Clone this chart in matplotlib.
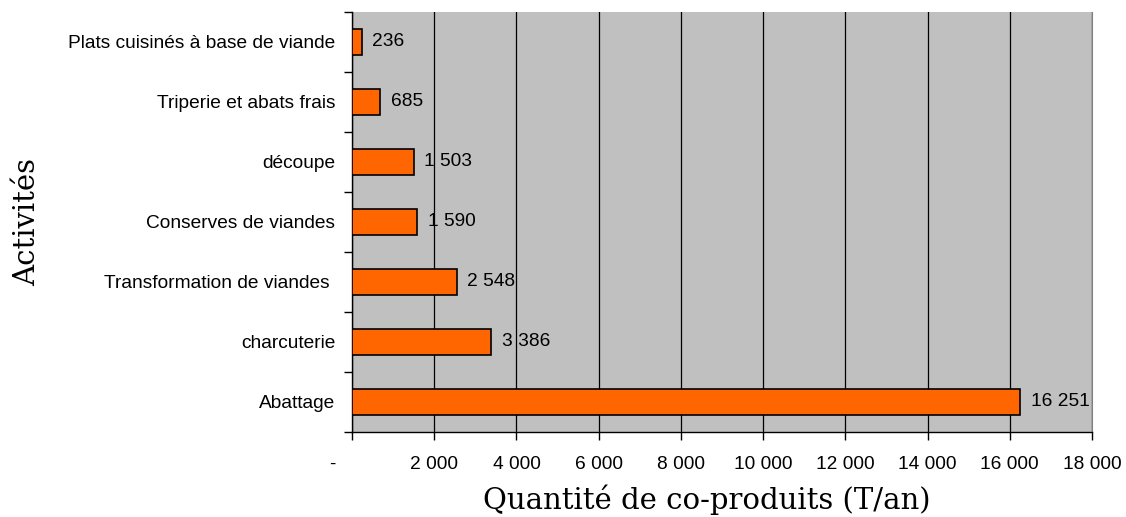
import matplotlib.pyplot as plt
from matplotlib.transforms import ScaledTranslation

# Quantités de co-produits par activité (T/an), du bas vers le haut
activites = ["Abattage", "charcuterie", "Transformation de viandes ",
             "Conserves de viandes", "découpe", "Triperie et abats frais",
             "Plats cuisinés à base de viande"]
quantites = [16251, 3386, 2548, 1590, 1503, 685, 236]
graduations = [0, 2000, 4000, 6000, 8000, 10000, 12000, 14000, 16000, 18000]


def fmt(v):
    return "-" if v == 0 else f"{v:,}".replace(",", " ")


plt.rcParams['font.family'] = ['Liberation Sans', 'DejaVu Sans']

fig = plt.figure(figsize=(11.26, 5.17), dpi=100)
ax = fig.add_axes([352 / 1126, 1 - 432 / 517, 740 / 1126, 420 / 517])
ax.set_facecolor("#c0c0c0")

y = list(range(len(activites)))
ax.barh(y, quantites, height=0.42, color="#ff6600", edgecolor="black",
        linewidth=1.2, zorder=3)
for yi, q in zip(y, quantites):
    ax.annotate(fmt(q), (q, yi), xytext=(7.5, 0), textcoords="offset points",
                va="center", ha="left", fontsize=13.8, zorder=4)

ax.set_xlim(0, 18000)
ax.set_ylim(-0.5, len(activites) - 0.5)
ax.set_xticks(graduations)
ax.set_xticklabels([fmt(g) for g in graduations], fontsize=13.8)
ax.xaxis.grid(True, color="black", linewidth=0.9, zorder=1)
ax.tick_params(axis="x", length=6, width=1, pad=11)

# le tiret du zéro est décalé vers la gauche (format comptable)
lbl0 = ax.get_xticklabels()[0]
lbl0.set_transform(lbl0.get_transform() + ScaledTranslation(-0.2, 0, fig.dpi_scale_trans))

ax.set_yticks(y)
ax.set_yticklabels(activites, fontsize=13.8)
ax.set_yticks([i - 0.5 for i in range(len(activites) + 1)], minor=True)
ax.tick_params(axis="y", which="major", length=0, pad=12)
ax.tick_params(axis="y", which="minor", length=6, width=1)

ax.spines["top"].set_visible(False)
ax.spines["right"].set_color("#808080")
ax.spines["left"].set_linewidth(1)
ax.spines["bottom"].set_linewidth(1)

ax.set_xlabel("Quantité de co-produits (T/an)", family="DejaVu Serif",
              fontsize=21)
ax.xaxis.set_label_coords(0.48, -0.125)
ax.set_ylabel("Activités", family="DejaVu Serif", fontsize=21)
ax.yaxis.set_label_coords(-0.42, 0.5)

fig.savefig("out.png", dpi=100, facecolor="white")
